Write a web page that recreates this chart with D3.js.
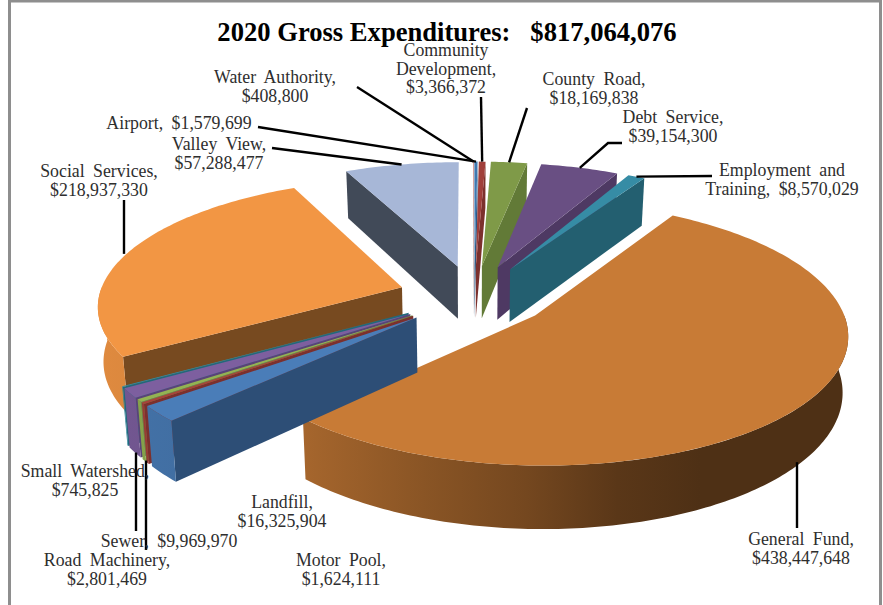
<!DOCTYPE html>
<html><head><meta charset="utf-8">
<style>html,body{margin:0;padding:0;background:#fff}svg{display:block}</style>
<script src="https://cdn.jsdelivr.net/npm/d3@7/dist/d3.min.js"></script>
</head><body><svg id="c" width="883" height="605"></svg>
<script>
const titleText = "2020 Gross Expenditures:\u00A0\u00A0 $817,064,076";
const categories = ["Airport","Community Development","County Road","Debt Service","Employment and Training","General Fund","Landfill","Motor Pool","Road Machinery","Sewer","Small Watershed","Social Services","Valley View","Water Authority"];
const amounts = [1579699,3366372,18169838,39154300,8570029,438447648,16325904,1624111,2801469,9969970,745825,218937330,57288477,408800];
const topColors = ["#3f78b0","#a03f3b","#7f9a48","#694f83","#368ca5","#c87b36","#4a7db8","#a8403c","#93b352","#7d5f9f","#2f8ea6","#f29644","#a7b7d7","#c98583"];
const cutColors = ["#2d5a86","#7c302d","#627a37","#4e3963","#235f70","#6e4520","#2d4e76","#7c302d","#6f8a3c","#5a4378","#21697c","#774a20","#414a58","#8e5a58"];
const labelLines = [
  ["Airport, $1,579,699"],["Community","Development,","$3,366,372"],["County Road,","$18,169,838"],["Debt Service,","$39,154,300"],
  ["Employment and","Training, $8,570,029"],["General Fund,","$438,447,648"],["Landfill,","$16,325,904"],["Motor Pool,","$1,624,111"],
  ["Road Machinery,","$2,801,469"],["Sewer, $9,969,970"],["Small Watershed,","$745,825"],["Social Services,","$218,937,330"],["Valley View,","$57,288,477"],["Water Authority,","$408,800"]];

// layout (separate from the data)
const labelAnchor = [[179,129],[446,56],[594,85],[673,123],[782,176],[801,545],[282,508],[341,566],[107,566],[169,547],[85,477],[99,177],[219,150],[275,83]];
const leaderEnds = {0:{to:[[258,127]]},1:{to:[[481,97]]},2:{to:[[527,108]]},3:{to:[[608,143],[622,143]]},4:{to:[[712,176]]},
  5:{x:797,end:528,depth:1},8:{x:146,end:550,depth:1},9:{x:136,end:531,depth:1},11:{x:124,end:200,depth:0},12:{to:[[272,148]]},13:{to:[[357,87]]}};
const explode = 0.25, persp = 0.13, thick = 54, taper = 0.015;
const xs = d3.scaleLinear().domain([-1,1]).range([474-303,474+303]);
const ys = d3.scaleLinear().domain([-1,1]).range([296+125,296-125]);
const rimStops = [[0,.92],[.27,.83],[.43,.69],[.57,.58],[.69,.45],[.8,.39],[1,.39]];

function project(x,y,depth){
  const w = 1+persp*y;
  return [xs(x/w*(1-taper*depth)), ys(y/w)+thick*depth/w];
}
const svg = d3.select("#c");
const defs = svg.append("defs");
const pie = d3.pie().sort(null).value(d=>d).startAngle(0).endAngle(2*Math.PI);
const arcs = pie(amounts).map((a,i)=>{
  const mid=(a.startAngle+a.endAngle)/2;
  return {i,a0:a.startAngle,a1:a.endAngle,mid,ox:explode*Math.sin(mid),oy:explode*Math.cos(mid)};
});
const line = d3.line();
function rimPt(s,t,depth){return project(s.ox+Math.sin(t),s.oy+Math.cos(t),depth);}
function samples(a0,a1){const n=Math.max(2,Math.ceil((a1-a0)/(Math.PI/180)));return d3.range(n+1).map(k=>a0+(a1-a0)*k/n);}

svg.append("rect").attr("x",9.5).attr("y",1).attr("width",871).attr("height",640)
  .attr("fill","#fff").attr("stroke","#8e8e8e").attr("stroke-width",3);

arcs.forEach(s=>{
  const base=d3.rgb(topColors[s.i]);
  const g=defs.append("linearGradient").attr("id","rim"+s.i).attr("gradientUnits","userSpaceOnUse")
    .attr("x1",100).attr("x2",850).attr("y1",0).attr("y2",0);
  rimStops.forEach(([o,f])=>g.append("stop").attr("offset",o)
    .attr("stop-color",d3.rgb(base.r*f,base.g*f,base.b*f).formatHex()));
});

const order = arcs.slice().sort((p,q)=>q.oy-p.oy);
const groups = svg.selectAll("g.slice").data(order).join("g").attr("class","slice");
groups.each(function(s){
  const g=d3.select(this);
  const apexT=project(s.ox,s.oy,0), apexB=project(s.ox,s.oy,1);
  const cut=t=>line([apexT,rimPt(s,t,0),rimPt(s,t,1),apexB])+"Z";
  const r0=Math.max(s.a0,Math.PI/2), r1=Math.min(s.a1,3*Math.PI/2);
  if(Math.sin(s.a1)>0) g.append("path").attr("d",cut(s.a1)).attr("fill",cutColors[s.i]);
  if(Math.sin(s.a0)<0) g.append("path").attr("d",cut(s.a0)).attr("fill",cutColors[s.i]);
  if(r1>r0){
    const ts=samples(r0,r1);
    const pts=ts.map(t=>rimPt(s,t,0)).concat(ts.slice().reverse().map(t=>rimPt(s,t,1)));
    g.append("path").attr("d",line(pts)+"Z").attr("fill",`url(#rim${s.i})`);
  }
  g.append("path").attr("d",line([apexT].concat(samples(s.a0,s.a1).map(t=>rimPt(s,t,0))))+"Z")
    .attr("fill",topColors[s.i]);
});

// leaders
Object.keys(leaderEnds).forEach(k=>{
  const s=arcs[+k], spec=leaderEnds[k];
  let pts;
  if(spec.to){
    pts=[rimPt(s,s.mid,0)].concat(spec.to);
  }else{
    const p=rimPt(s,s.mid,spec.depth);
    pts=[[spec.x,p[1]],[spec.x,spec.end]];
  }
  svg.append("path").attr("d",line(pts)).attr("fill","none").attr("stroke","#000").attr("stroke-width",2.4);
});

// labels
const labels = svg.selectAll("text.lab").data(arcs).join("text").attr("class","lab")
  .attr("font-family","Liberation Serif").attr("font-size",17.8).attr("fill","#2e2e2e")
  .attr("word-spacing",4).attr("text-anchor","middle");
labels.each(function(s){
  const [x,y]=labelAnchor[s.i];
  d3.select(this).selectAll("tspan").data(labelLines[s.i]).join("tspan")
    .attr("x",x).attr("y",(d,j)=>y+j*18.6).text(d=>d);
});
svg.append("text").attr("x",447).attr("y",41).attr("text-anchor","middle")
  .attr("font-family","Liberation Serif").attr("font-weight","bold").attr("font-size",26.6)
  .attr("fill","#000").attr("xml:space","preserve").text(titleText);
</script></body></html>
